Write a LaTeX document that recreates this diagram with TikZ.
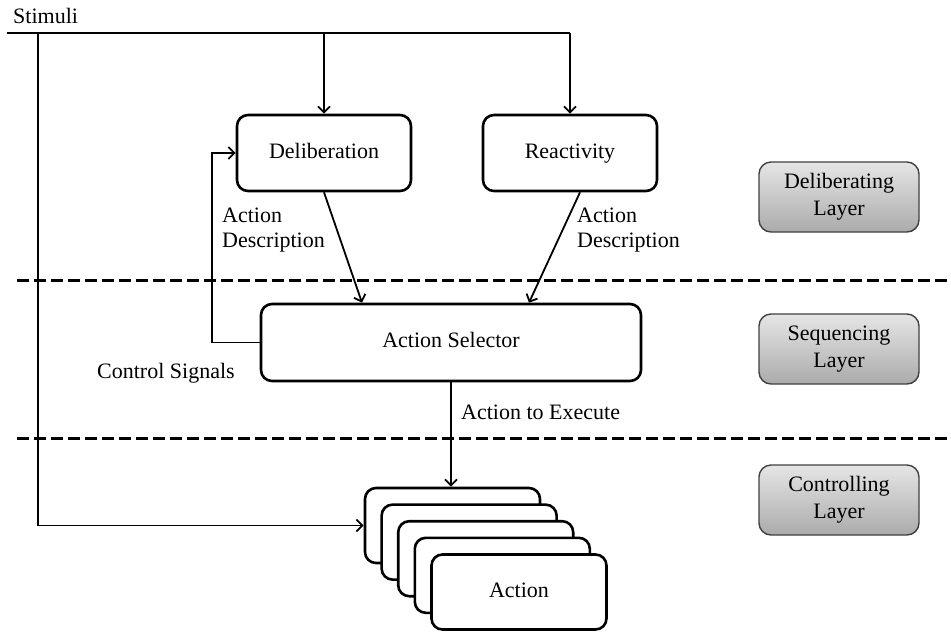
\documentclass[tikz,border=0pt]{standalone}
\usepackage{fontspec}
\setmainfont{Liberation Serif}
\usetikzlibrary{arrows.meta}
\begin{document}
\begin{tikzpicture}[x=1pt,y=-1pt,
  every node/.style={font=\fontsize{22}{25}\selectfont},
  blk/.style={draw, line width=2.6pt, rounded corners=11pt, fill=white, inner sep=0pt,
    text height=15pt, text depth=5pt},
  lyr/.style={draw=black!75, line width=1.4pt, rounded corners=12pt,
    top color=black!10, bottom color=black!33, minimum width=160pt,
    minimum height=70pt, align=center, inner sep=0pt,
    font=\fontsize{22}{27}\selectfont},
  conn/.style={line width=1.8pt, -{Straight Barb[length=6pt,width=12pt,line width=1.8pt]}},
  wire/.style={line width=1.8pt},
  sep/.style={line width=3pt, dash pattern=on 12pt off 5pt},
  lbl/.style={inner sep=0pt}]
\useasboundingbox (0,0) rectangle (951,633);

% layer separators
\coordinate (d1a) at (17,280);  \coordinate (d1b) at (951,280);
\coordinate (d2a) at (17,438);  \coordinate (d2b) at (951,438);
\draw[sep] (d1a) -- (d1b);
\draw[sep] (d2a) -- (d2b);

% main blocks
\node[blk, minimum width=174pt, minimum height=76pt] (delib) at (324,153) {Deliberation};
\node[blk, minimum width=174pt, minimum height=76pt] (react) at (570,153) {Reactivity};
\node[blk, minimum width=380pt, minimum height=77pt] (sel) at (451,342.5) {Action Selector};

% stack of actions
\foreach \k in {0,...,3}
  \node[blk, minimum width=175pt, minimum height=75pt] (act\k) at ({452.5+16.6*\k},{525.5+16.6*\k}) {};
\node[blk, minimum width=175pt, minimum height=75pt] (act) at (519,592) {Action};

% layer tags
\node[lyr] (lay1) at (839,197) {Deliberating\\Layer};
\node[lyr] (lay2) at (839,349) {Sequencing\\Layer};
\node[lyr] (lay3) at (839,500) {Controlling\\Layer};

% labels
\node[lbl, anchor=base west] (stim) at (13,23) {Stimuli};
\node[lbl, anchor=north west, align=left] (descL) at (222,208) {Action\\Description};
\node[lbl, anchor=north west, align=left] (descR) at (577,208) {Action\\Description};
\node[lbl, anchor=base west] (ctrl) at (97,378) {Control Signals};
\node[lbl, anchor=base west] (exec) at (461,419) {Action to Execute};

% stimuli distribution
\coordinate (s0) at (7,33);
\coordinate (s1) at (38,33);
\coordinate (fb) at (212,0);
\draw[wire] (s0) -- (react.north |- s0);
\draw[conn] (delib.north |- s0) -- (delib.north);
\draw[conn] (react.north |- s0) -- (react.north);
\draw[conn] (s1) |- (act0.west);

% action descriptions
\draw[conn] (delib.south) -- ([xshift=-89pt]sel.north);
\draw[conn] ([xshift=10pt]react.south) -- ([xshift=78pt]sel.north);

% control feedback
\draw[conn] (sel.west) -- (sel.west -| fb) |- (delib.west);

% execution
\draw[conn] (sel.south) -- (sel.south |- act0.north);
\end{tikzpicture}
\end{document}
